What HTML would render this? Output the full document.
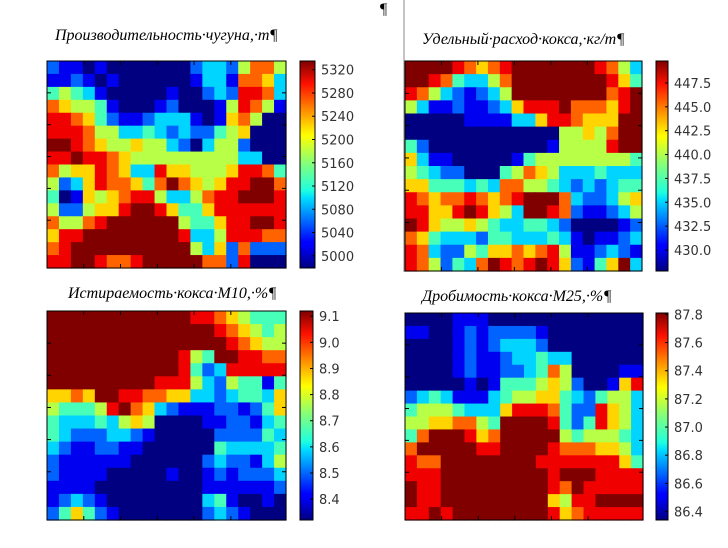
<!DOCTYPE html>
<html><head><meta charset="utf-8"><style>
html,body{margin:0;padding:0;background:#fff;}
svg{display:block;}
.t{font-family:"Liberation Serif",serif;font-style:italic;font-size:16px;fill:#000;}
.cb{font-family:"DejaVu Sans","Liberation Sans",sans-serif;font-size:13px;fill:#333;}
</style></head><body>
<svg id="root" width="728" height="548" viewBox="0 0 728 548" xmlns="http://www.w3.org/2000/svg">
<defs>
<linearGradient id="jet" x1="0" y1="1" x2="0" y2="0">
<stop offset="0" stop-color="#00007f"/><stop offset="0.11" stop-color="#0000ff"/><stop offset="0.125" stop-color="#0000ff"/><stop offset="0.34" stop-color="#00dfff"/><stop offset="0.375" stop-color="#1fffdf"/><stop offset="0.5" stop-color="#7fff7f"/><stop offset="0.64" stop-color="#ffff00"/><stop offset="0.66" stop-color="#ffef00"/><stop offset="0.89" stop-color="#ff1000"/><stop offset="1" stop-color="#7f0000"/>
</linearGradient>
</defs>
<text x="380" y="14" class="t" style="font-style:normal">¶</text>
<line x1="404" y1="0" x2="404" y2="272" stroke="#888" stroke-width="1"/>
<text x="55" y="40" class="t">Производительность·чугуна,·т¶</text>
<text x="422" y="44" class="t">Удельный·расход·кокса,·кг/т¶</text>
<text x="68" y="298" class="t">Истираемость·кокса·M10,·%¶</text>
<text x="422" y="301" class="t">Дробимость·кокса·M25,·%¶</text>
<g id="charts"></g>
</svg>
<script>
// level grids (0..9 within each map's colour range), rows top->bottom
const gridIron = ["21101000000023325775","11210100000013317763","45431000001002328873","76554100012000158751","88764211233310167500","88875533432322456000","99876556553203552000","88988765555555553300","75668763386655568874","52368776479765688997","40165678853357889998","52256689986446888888","75578999999544688998","68899999999833588877","78999999999953627222","88998778999997728000"];
const gridCoke = ["99998767899999998753","99874335799999999864","87532123599999999789","53112112368889777689","00000111133688766699","00000000000005565799","42000000000015555899","63110000014555555554","54322000457653334333","66444343775543232344","87677876789997322356","88668986539987211235","98655654334432000012","76433324433343101123","87322546676785112321","87524379878986214693"];
const gridM10 = ["99999999999988765444","99999999999999876545","99999999999999987655","99999999999854998877","99999999999842388888","99999999988853254414","66769988776633234436","54445897632111221246","43334356500001122134","43222332100000222243","32112211000000433334","21111110000002322135","21111000001001212223","11110000000001111112","12321000000003410010","24642100000002321000"];
const gridM25 = ["00001110000000000000","11001212222100000000","00001212333200000000","00001211233433000000","00001211223475000011","00000101444565200168","23431113455664324553","45554333688874228653","55667754999984248653","47999867999995455543","79999988999987776653","87799999999888888864","88899999999989998888","98899999999987988888","98899999999965889999","88989999999986788888"];
const ticksIron = ["5320","5280","5240","5200","5160","5120","5080","5040","5000"];
const ticksCoke = ["447.5","445.0","442.5","440.0","437.5","435.0","432.5","430.0"];
const ticksM10 = ["9.1","9.0","8.9","8.8","8.7","8.6","8.5","8.4"];
const ticksM25 = ["87.8","87.6","87.4","87.2","87.0","86.8","86.6","86.4"];
const rangeIron = [4979, 5335];
const rangeCoke = [427.8, 449.8];
const rangeM10 = [8.32, 9.12];
const rangeM25 = [86.34, 87.81];

const NS="http://www.w3.org/2000/svg";
function jet(t){
  t=Math.max(0,Math.min(1,t));
  const r=Math.max(0,Math.min(1,1.5-Math.abs(4*t-3)));
  const g=Math.max(0,Math.min(1,1.5-Math.abs(4*t-2)));
  const b=Math.max(0,Math.min(1,1.5-Math.abs(4*t-1)));
  return `rgb(${Math.round(r*255)},${Math.round(g*255)},${Math.round(b*255)})`;
}
function mk(tag,attrs,parent){const e=document.createElementNS(NS,tag);for(const k in attrs)e.setAttribute(k,attrs[k]);parent.appendChild(e);return e;}
function draw(name,grid,range,ticks,px,py,pw,ph,cx,cw){
  const root=document.getElementById('charts');
  const g=mk('g',{},root);
  
  
  const vals=grid.map(r=>r.split('').map(c=>range[0]+(+c)/9*(range[1]-range[0])));
  const rows=vals.length, cols=vals[0].length;
  const sx=v=>px+v*pw/cols, sy=v=>py+v*ph/rows;
  const col=v=>jet((v-range[0])/(range[1]-range[0]));
  vals.forEach((row,i)=>row.forEach((v,j)=>{
    const r=mk('rect',{x:sx(j),y:sy(i),width:pw/cols+0.6,height:ph/rows+0.6,fill:col(v)},g);
    
    
  }));
  const fr=mk('rect',{x:px,y:py,width:pw,height:ph,fill:'none',stroke:'#000','stroke-width':1},g);
  
  
  for(let k=1;k<6;k++){
    const x=px+k*pw/6.5, y=py+k*ph/6.5;
    mk('line',{x1:x,y1:py,x2:x,y2:py+4,stroke:'#000'},g);
    mk('line',{x1:x,y1:py+ph,x2:x,y2:py+ph-4,stroke:'#000'},g);
    mk('line',{x1:px,y1:y,x2:px+4,y2:y,stroke:'#000'},g);
    mk('line',{x1:px+pw,y1:y,x2:px+pw-4,y2:y,stroke:'#000'},g);
  }
  const cb=mk('rect',{x:cx,y:py,width:cw,height:ph,fill:'url(#jet)',stroke:'#000','stroke-width':1},g);
  
  
  const cy=v=>py+ph-(v-range[0])/(range[1]-range[0])*ph;
  ticks.forEach(t=>{
    const y=cy(parseFloat(t));
    mk('line',{x1:cx+cw-3,y1:y,x2:cx+cw,y2:y,stroke:'#000'},g);
    const tx=mk('text',{x:cx+cw+6,y:y+5,class:'cb'},g);
    tx.textContent=t;
    
    
  });
}
draw('iron-output',gridIron,rangeIron,ticksIron,47,61,239,207,300,15);
draw('coke-rate',gridCoke,rangeCoke,ticksCoke,405,61,237,210,656,12);
draw('m10',gridM10,rangeM10,ticksM10,47,311,239,209,300,13);
draw('m25',gridM25,rangeM25,ticksM25,405,313,238,207,656,12);
</script>
</body></html>
